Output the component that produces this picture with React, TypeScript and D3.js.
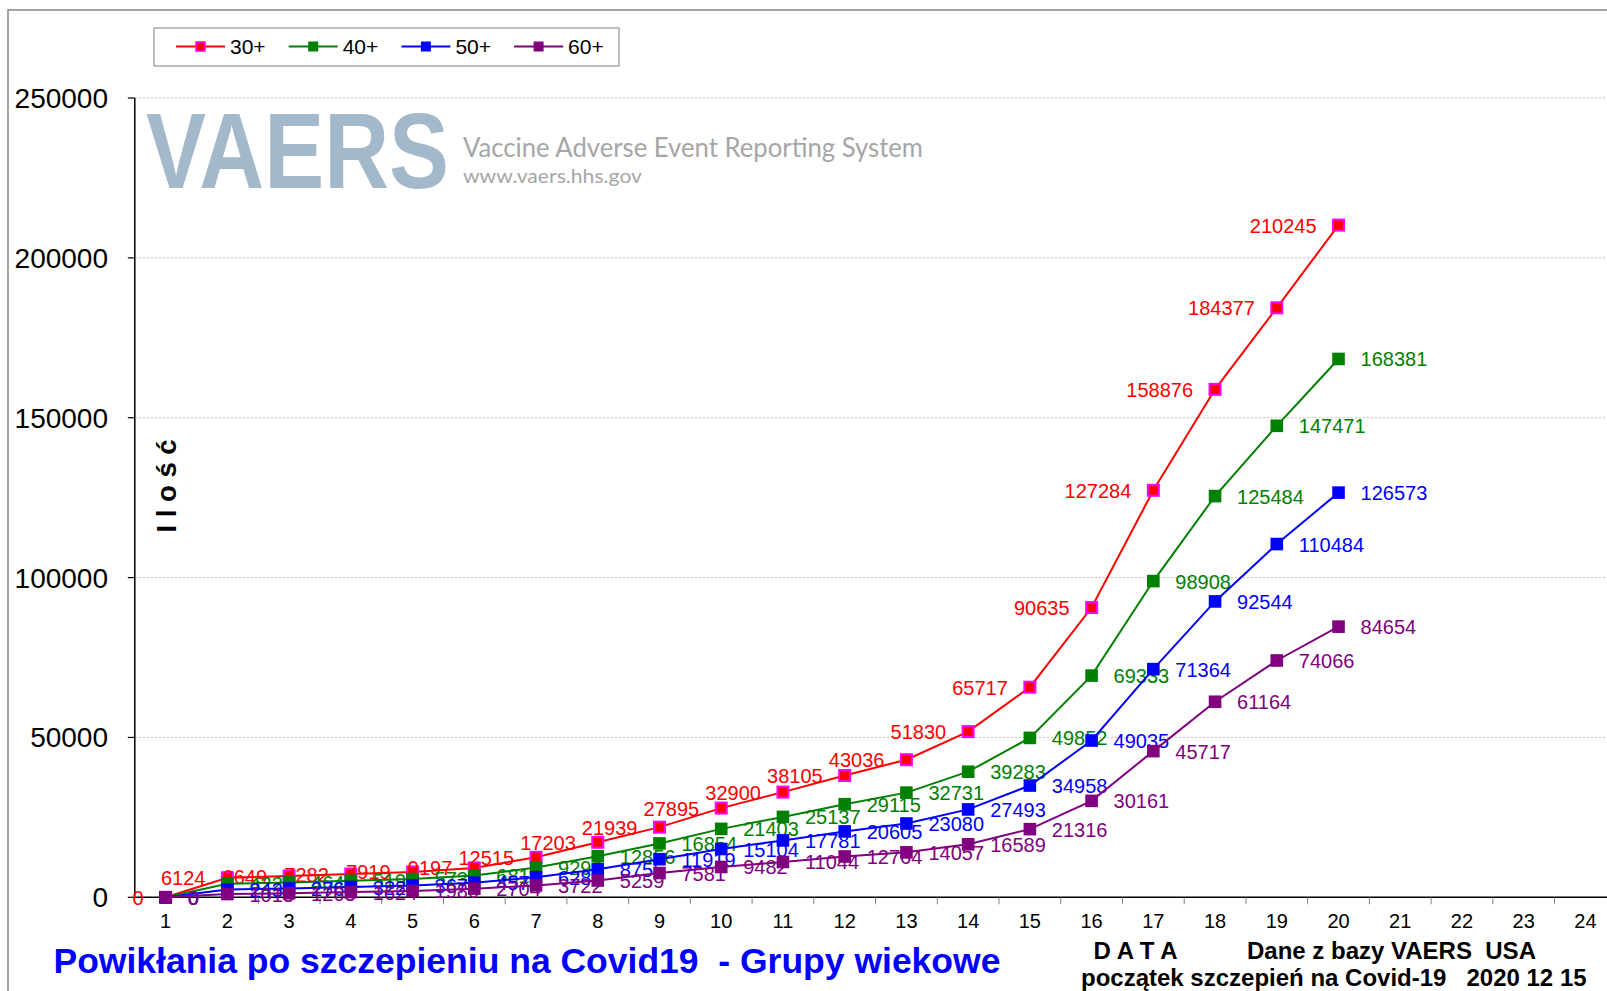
import React from 'react';
import * as d3 from 'd3';

const categories = [1, 2, 3, 4, 5, 6, 7, 8, 9, 10, 11, 12, 13, 14, 15, 16, 17, 18, 19, 20, 21, 22, 23, 24];
const yTicks = [0, 50000, 100000, 150000, 200000, 250000];
const gridTicks = [50000, 100000, 150000, 200000, 250000];

const s30 = [0, 6124, 6649, 7282, 7919, 9197, 12515, 17203, 21939, 27895, 32900, 38105, 43036, 51830, 65717, 90635, 127284, 158876, 184377, 210245];
const s40 = [0, 4229, 4641, 5196, 5739, 6813, 9296, 12856, 16854, 21403, 25137, 29115, 32731, 39283, 49852, 69333, 98908, 125484, 147471, 168381];
const s50 = [0, 2432, 2763, 3220, 3670, 4573, 6283, 8755, 11919, 15104, 17781, 20605, 23080, 27493, 34958, 49035, 71364, 92544, 110484, 126573];
const s60 = [0, 1013, 1263, 1624, 1980, 2704, 3722, 5259, 7581, 9482, 11044, 12764, 14057, 16589, 21316, 30161, 45717, 61164, 74066, 84654];

const seriesNames = ['30+', '40+', '50+', '60+'];
const seriesData = [s30, s40, s50, s60];
const seriesColors = ['#ff0000', '#008000', '#0000ff', '#800080'];
const markerStrokes = ['#ff00ff', 'none', 'none', 'none'];
const labelSides = ['left', 'right', 'right', 'right'];

const titleText = 'Powikłania po szczepieniu na Covid19  - Grupy wiekowe';
const yAxisTitle = 'I l o ś ć';
const dataWord = 'D A T A';
const sourceText = 'Dane z bazy VAERS  USA';
const startText = 'początek szczepień na Covid-19   2020 12 15';

const FONT = '"Liberation Sans", Arial, sans-serif';

export default function App() {
  const W = 1607;
  const H = 991;
  const x = d3.scaleBand<number>().domain(categories).range([134.8, 1616.3]).padding(0);
  const y = d3.scaleLinear().domain([0, 250000]).range([897.3, 98]);
  const bw = x.bandwidth();
  const cx = (i: number) => (x(categories[i]) as number) + bw / 2;
  const line = d3
    .line<number>()
    .x((_, i) => cx(i))
    .y((d) => y(d))
    .curve(d3.curveLinear);

  const x0 = x.range()[0];
  const y0 = y(0);

  return (
    <svg
      width={W}
      height={H}
      style={{ position: 'absolute', left: 0, top: 0, background: '#fff' }}
      fontFamily={FONT}
    >
      <rect x={0} y={0} width={W} height={H} fill="#fff" />
      <rect x={8} y={10} width={W + 20} height={H + 20} fill="none" stroke="#868686" strokeWidth={1.5} />

      {/* VAERS logo watermark */}
      <text x={146} y={187.6} fontSize={107} fontWeight="bold" fill="#a3b8cb" textLength={303} lengthAdjust="spacingAndGlyphs">
        VAERS
      </text>
      <text x={463} y={157} fontSize={26} fontFamily="Lato, sans-serif" fill="#a6a6a6" textLength={460} lengthAdjust="spacingAndGlyphs">
        Vaccine Adverse Event Reporting System
      </text>
      <text x={463} y={183} fontSize={20} fontFamily="Lato, sans-serif" fill="#a6a6a6" textLength={179} lengthAdjust="spacingAndGlyphs">
        www.vaers.hhs.gov
      </text>

      {/* gridlines */}
      {gridTicks.map((t) => (
        <line key={'g' + t} x1={x0} x2={W} y1={y(t)} y2={y(t)} stroke="#bdbdbd" strokeWidth={1} strokeDasharray="2,2" />
      ))}

      {/* y axis */}
      <line x1={x0} x2={x0} y1={y(250000)} y2={y0} stroke="#000" strokeWidth={1.5} />
      {yTicks.map((t) => (
        <g key={'y' + t}>
          <line x1={x0 - 7} x2={x0} y1={y(t)} y2={y(t)} stroke="#000" strokeWidth={1.2} />
          <text x={108} y={y(t) + 10} fontSize={28} textAnchor="end" fill="#000">
            {t}
          </text>
        </g>
      ))}

      {/* x axis */}
      <line x1={x0} x2={W} y1={y0} y2={y0} stroke="#000" strokeWidth={1.5} />
      {categories.map((c, i) => (
        <g key={'x' + c}>
          <line x1={(x(c) as number) + bw} x2={(x(c) as number) + bw} y1={y0} y2={y0 + 7} stroke="#808080" strokeWidth={1} />
          <text x={cx(i)} y={927.5} fontSize={20} textAnchor="middle" fill="#000">
            {c}
          </text>
        </g>
      ))}

      {/* y axis title */}
      <text transform="translate(176,486) rotate(-90)" fontSize={27.5} fontWeight="bold" textAnchor="middle" fill="#000" style={{ whiteSpace: 'pre' }}>
        {yAxisTitle}
      </text>

      {/* series */}
      {seriesData.map((data, si) => (
        <g key={'s' + si}>
          <path d={line(data) || ''} fill="none" stroke={seriesColors[si]} strokeWidth={2} />
          {data.map((v, i) =>
            markerStrokes[si] !== 'none' ? (
              <rect key={'m' + i} x={cx(i) - 5.5} y={y(v) - 5.5} width={11} height={11} fill={seriesColors[si]} stroke={markerStrokes[si]} strokeWidth={2} />
            ) : (
              <rect key={'m' + i} x={cx(i) - 6.3} y={y(v) - 6.3} width={12.6} height={12.6} fill={seriesColors[si]} />
            )
          )}
          {data.map((v, i) => (
            <text
              key={'l' + i}
              x={labelSides[si] === 'left' ? cx(i) - 22 : cx(i) + 22}
              y={y(v) + 7.5}
              fontSize={20}
              textAnchor={labelSides[si] === 'left' ? 'end' : 'start'}
              fill={seriesColors[si]}
            >
              {v}
            </text>
          ))}
        </g>
      ))}

      {/* legend */}
      <rect x={154} y={28} width={465} height={38} fill="#fff" stroke="#808080" strokeWidth={1} />
      {seriesNames.map((n, si) => {
        const lx = 176 + si * 112.7;
        return (
          <g key={'lg' + si}>
            <line x1={lx} x2={lx + 49} y1={46.5} y2={46.5} stroke={seriesColors[si]} strokeWidth={2} />
            {markerStrokes[si] !== 'none' ? (
              <rect x={lx + 24.5 - 4.5} y={46.5 - 4.5} width={9} height={9} fill={seriesColors[si]} stroke={markerStrokes[si]} strokeWidth={1.5} />
            ) : (
              <rect x={lx + 24.5 - 5} y={46.5 - 5} width={10} height={10} fill={seriesColors[si]} />
            )}
            <text x={lx + 54} y={54} fontSize={21} fill="#000">
              {n}
            </text>
          </g>
        );
      })}

      {/* bottom texts */}
      <text x={53.5} y={973} fontSize={35.5} fontWeight="bold" fill="#0000ff" style={{ whiteSpace: 'pre' }}>
        {titleText}
      </text>
      <text x={1093.6} y={958.5} fontSize={24} fontWeight="bold" fill="#000" style={{ whiteSpace: 'pre' }}>
        {dataWord}
      </text>
      <text x={1247} y={958.5} fontSize={24} fontWeight="bold" fill="#000" style={{ whiteSpace: 'pre' }}>
        {sourceText}
      </text>
      <text x={1081} y={986} fontSize={24} fontWeight="bold" fill="#000" style={{ whiteSpace: 'pre' }}>
        {startText}
      </text>
    </svg>
  );
}
